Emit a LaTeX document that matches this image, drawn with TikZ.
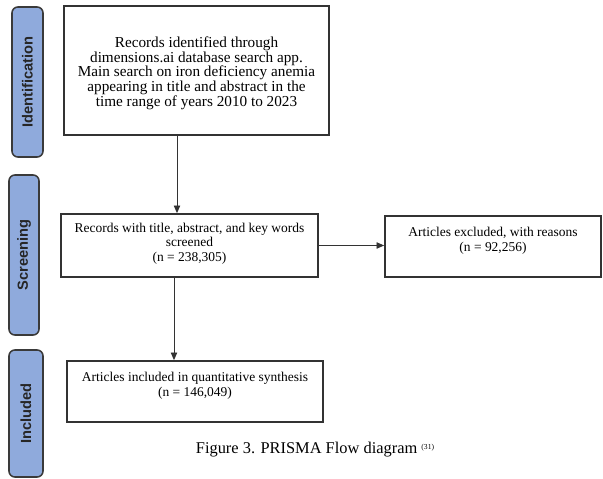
\documentclass[tikz,border=0pt]{standalone}
\usepackage{fontspec}
\setmainfont{Liberation Serif}
\newfontfamily\stagefont{Liberation Sans}
\usetikzlibrary{calc}
\usetikzlibrary{arrows.meta}
\definecolor{stageblue}{HTML}{8FAADC}
\definecolor{stageline}{HTML}{3A3A3A}

\begin{document}
\begin{tikzpicture}[
  x=0.03cm, y=-0.03cm,
  stage/.style={rectangle, rounded corners=5pt, line width=1.3pt, fill=stageblue,
    draw=stageline, rotate=90, inner sep=0pt, text=black!85,
    font=\stagefont\bfseries\fontsize{12.5}{14}\selectfont},
  recbox/.style={rectangle, line width=1.5pt, draw=black!80, fill=white,
    inner sep=2pt, align=center, font=\fontsize{11.5}{12.4}\selectfont},
  flow/.style={line width=0.8pt, draw=black!80, -{Triangle[length=6.5pt,width=5.5pt]}}
]
\useasboundingbox (0,0) rectangle (603,479);

% ====== STAGE LABELS ======
\node[stage, minimum width=4.5cm, minimum height=0.93cm] (ident) at (27.5,82) {Identification};
\node[stage, minimum width=4.8cm, minimum height=0.9cm] (screen) at (24,255) {Screening};
\node[stage, minimum width=3.81cm, minimum height=1.02cm] (incl) at (26,413.5) {Included};

% ====== FLOW BOXES ======
\node[recbox, minimum width=7.95cm, minimum height=3.87cm,
    font=\fontsize{13}{12.5}\selectfont] (records) at (196.5,70.5) {
    \mbox{}\\[1pt]
    Records identified through\\
    dimensions.ai database search app.\\
    Main search on iron deficiency anemia\\
    appearing in title and abstract in the\\
    time range of years 2010 to 2023
};

\node[recbox, minimum width=7.71cm, minimum height=1.89cm] (screened) at (189.5,245.5) {
    \mbox{}\\[-8pt]
    Records with title, abstract, and key words\\
    screened\\
    (n = 238,305)
};

\node[recbox, minimum width=6.48cm, minimum height=1.83cm] (excluded) at (493,246.5) {
    Articles excluded, with reasons\\
    (n = 92,256)\\
    \mbox{}
};

\node[recbox, minimum width=7.68cm, minimum height=1.83cm] (included) at (195,391.5) {
    Articles included in quantitative synthesis\\
    (n = 146,049)\\
    \mbox{}
};

% ====== CONNECTORS ======
\coordinate (down1) at (177,0);
\coordinate (down2) at (174,0);
\draw[flow] (records.south -| down1) -- (screened.north -| down1);
\draw[flow] (screened.east) -- (excluded.west |- screened.east);
\draw[flow] (screened.south -| down2) -- (included.north -| down2);

% ====== CAPTION ======
\node[font=\fontsize{14}{16}\selectfont] (caption) at (315,450)
    {Figure 3. PRISMA Flow diagram \raisebox{4pt}{\fontsize{6.5}{7}\selectfont(31)}};

\end{tikzpicture}
\end{document}
